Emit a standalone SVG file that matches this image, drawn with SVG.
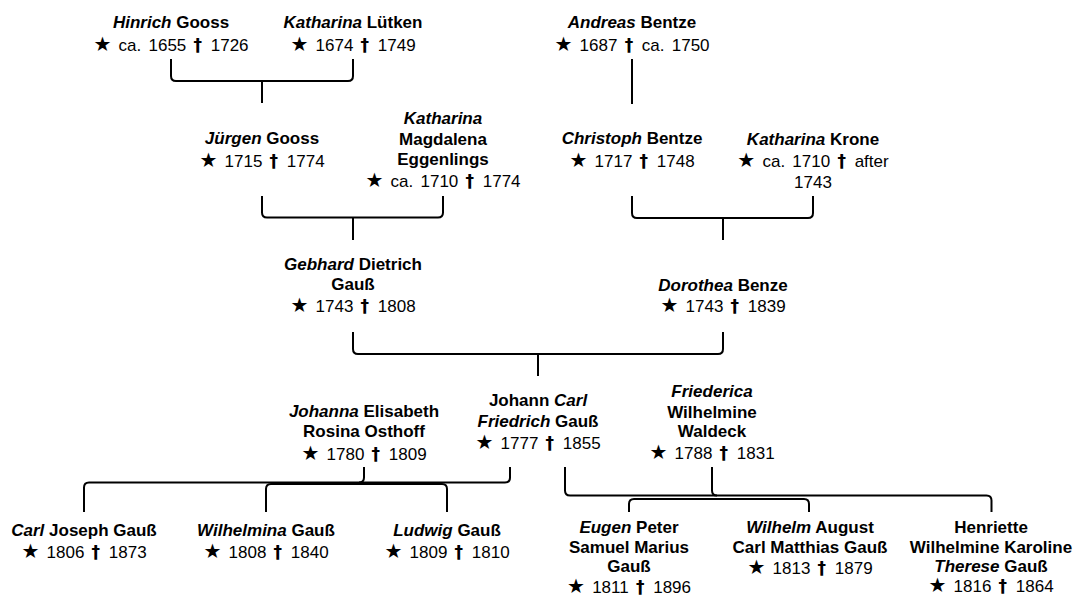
<svg xmlns="http://www.w3.org/2000/svg" width="1073" height="597" viewBox="0 0 1073 597">
<style>
text { font-family: "Liberation Sans", Arial, sans-serif; font-size: 17px; text-anchor: middle; fill: #000; }
.nm { font-weight: bold; }
.fn { font-style: italic; }
.dt { font-weight: normal; word-spacing: 2.5px; }
.st { font-family: "DejaVu Sans", sans-serif; font-size: 20px; }
.dg { font-family: "DejaVu Sans", sans-serif; font-weight: bold; font-size: 17px; letter-spacing: 1.5px; }
.edge { fill: none; stroke: #000; stroke-width: 2; stroke-linejoin: round; }
</style>
<rect x="0" y="0" width="1073" height="597" fill="#fff"/>
<g id="connectors">
  <path class="edge" d="M171,59 V76 Q171,81 176,81 H348 Q353,81 353,76 V59 M262,81 V103"/>
  <path class="edge" d="M632,59 V104"/>
  <path class="edge" d="M262,196 V212.5 Q262,217.5 267,217.5 H438 Q443,217.5 443,212.5 V196 M353,217.5 V240"/>
  <path class="edge" d="M632,196 V213 Q632,218 637,218 H808 Q813,218 813,213 V196 M723,218 V240"/>
  <path class="edge" d="M353,332 V349 Q353,354 358,354 H718 Q723,354 723,349 V332 M538,354 V376"/>
  <path class="edge" d="M84,512 V487.5 Q84,482.5 89,482.5 H505 Q510,482.5 510,477.5 V467"/>
  <path class="edge" d="M364,467 V477.5 Q364,482.5 359,482.5"/>
  <path class="edge" d="M266,512 V489 Q266,484 271,484 H442 Q447,484 447,489 V512"/>
  <path class="edge" d="M565,467 V490.5 Q565,495.5 570,495.5 H986.5 Q991.5,495.5 991.5,500.5 V512"/>
  <path class="edge" d="M712,467 V490.5 Q712,495.5 717,495.5"/>
  <path class="edge" d="M629,512 V504 Q629,499 634,499 H804 Q809,499 809,504 V512"/>
</g>
<g id="n-hinrich">
  <text x="171" y="28" class="nm"><tspan class="fn">Hinrich</tspan> Gooss</text>
  <text x="171" y="50.5" class="dt"><tspan class="st">★</tspan> ca. 1655 <tspan class="dg">†</tspan> 1726</text>
</g>
<g id="n-katharina-luetken">
  <text x="353" y="28" class="nm"><tspan class="fn">Katharina</tspan> Lütken</text>
  <text x="353" y="50.5" class="dt"><tspan class="st">★</tspan> 1674 <tspan class="dg">†</tspan> 1749</text>
</g>
<g id="n-andreas">
  <text x="632" y="28" class="nm"><tspan class="fn">Andreas</tspan> Bentze</text>
  <text x="632" y="50.5" class="dt"><tspan class="st">★</tspan> 1687 <tspan class="dg">†</tspan> ca. 1750</text>
</g>
<g id="n-juergen">
  <text x="262" y="144" class="nm"><tspan class="fn">Jürgen</tspan> Gooss</text>
  <text x="262" y="166.7" class="dt"><tspan class="st">★</tspan> 1715 <tspan class="dg">†</tspan> 1774</text>
</g>
<g id="n-katharina-eggenlings">
  <text x="443" y="124.3" class="nm"><tspan class="fn">Katharina</tspan></text>
  <text x="443" y="145" class="nm">Magdalena</text>
  <text x="443" y="165" class="nm">Eggenlings</text>
  <text x="443" y="186.5" class="dt"><tspan class="st">★</tspan> ca. 1710 <tspan class="dg">†</tspan> 1774</text>
</g>
<g id="n-christoph">
  <text x="632" y="144" class="nm"><tspan class="fn">Christoph</tspan> Bentze</text>
  <text x="632" y="166.7" class="dt"><tspan class="st">★</tspan> 1717 <tspan class="dg">†</tspan> 1748</text>
</g>
<g id="n-katharina-krone">
  <text x="813" y="144.5" class="nm"><tspan class="fn">Katharina</tspan> Krone</text>
  <text x="813" y="167" class="dt"><tspan class="st">★</tspan> ca. 1710 <tspan class="dg">†</tspan> after</text>
  <text x="813" y="187.5" class="dt">1743</text>
</g>
<g id="n-gebhard">
  <text x="353" y="270" class="nm"><tspan class="fn">Gebhard</tspan> Dietrich</text>
  <text x="353" y="290" class="nm">Gauß</text>
  <text x="353" y="311.7" class="dt"><tspan class="st">★</tspan> 1743 <tspan class="dg">†</tspan> 1808</text>
</g>
<g id="n-dorothea">
  <text x="723" y="290.7" class="nm"><tspan class="fn">Dorothea</tspan> Benze</text>
  <text x="723" y="311.7" class="dt"><tspan class="st">★</tspan> 1743 <tspan class="dg">†</tspan> 1839</text>
</g>
<g id="n-johanna">
  <text x="364" y="417.3" class="nm"><tspan class="fn">Johanna</tspan> Elisabeth</text>
  <text x="364" y="437" class="nm">Rosina Osthoff</text>
  <text x="364" y="460" class="dt"><tspan class="st">★</tspan> 1780 <tspan class="dg">†</tspan> 1809</text>
</g>
<g id="n-carl-friedrich">
  <text x="538" y="406" class="nm">Johann <tspan class="fn">Carl</tspan></text>
  <text x="538" y="426.7" class="nm"><tspan class="fn">Friedrich</tspan> Gauß</text>
  <text x="538" y="449.3" class="dt"><tspan class="st">★</tspan> 1777 <tspan class="dg">†</tspan> 1855</text>
</g>
<g id="n-friederica">
  <text x="712" y="396.7" class="nm"><tspan class="fn">Friederica</tspan></text>
  <text x="712" y="417.7" class="nm">Wilhelmine</text>
  <text x="712" y="436.5" class="nm">Waldeck</text>
  <text x="712" y="459.3" class="dt"><tspan class="st">★</tspan> 1788 <tspan class="dg">†</tspan> 1831</text>
</g>
<g id="n-carl-joseph">
  <text x="84" y="535.6" class="nm"><tspan class="fn">Carl</tspan> Joseph Gauß</text>
  <text x="84" y="557.6" class="dt"><tspan class="st">★</tspan> 1806 <tspan class="dg">†</tspan> 1873</text>
</g>
<g id="n-wilhelmina">
  <text x="266" y="535.6" class="nm"><tspan class="fn">Wilhelmina</tspan> Gauß</text>
  <text x="266" y="557.6" class="dt"><tspan class="st">★</tspan> 1808 <tspan class="dg">†</tspan> 1840</text>
</g>
<g id="n-ludwig">
  <text x="447" y="535.6" class="nm"><tspan class="fn">Ludwig</tspan> Gauß</text>
  <text x="447" y="557.6" class="dt"><tspan class="st">★</tspan> 1809 <tspan class="dg">†</tspan> 1810</text>
</g>
<g id="n-eugen">
  <text x="629" y="533.3" class="nm"><tspan class="fn">Eugen</tspan> Peter</text>
  <text x="629" y="553.3" class="nm">Samuel Marius</text>
  <text x="629" y="572" class="nm">Gauß</text>
  <text x="629" y="593" class="dt"><tspan class="st">★</tspan> 1811 <tspan class="dg">†</tspan> 1896</text>
</g>
<g id="n-wilhelm">
  <text x="810" y="533.3" class="nm"><tspan class="fn">Wilhelm</tspan> August</text>
  <text x="810" y="553.3" class="nm">Carl Matthias Gauß</text>
  <text x="810" y="574" class="dt"><tspan class="st">★</tspan> 1813 <tspan class="dg">†</tspan> 1879</text>
</g>
<g id="n-henriette">
  <text x="991" y="533.3" class="nm">Henriette</text>
  <text x="991" y="553.3" class="nm">Wilhelmine Karoline</text>
  <text x="991" y="571.7" class="nm"><tspan class="fn">Therese</tspan> Gauß</text>
  <text x="991" y="591.7" class="dt"><tspan class="st">★</tspan> 1816 <tspan class="dg">†</tspan> 1864</text>
</g>
</svg>
